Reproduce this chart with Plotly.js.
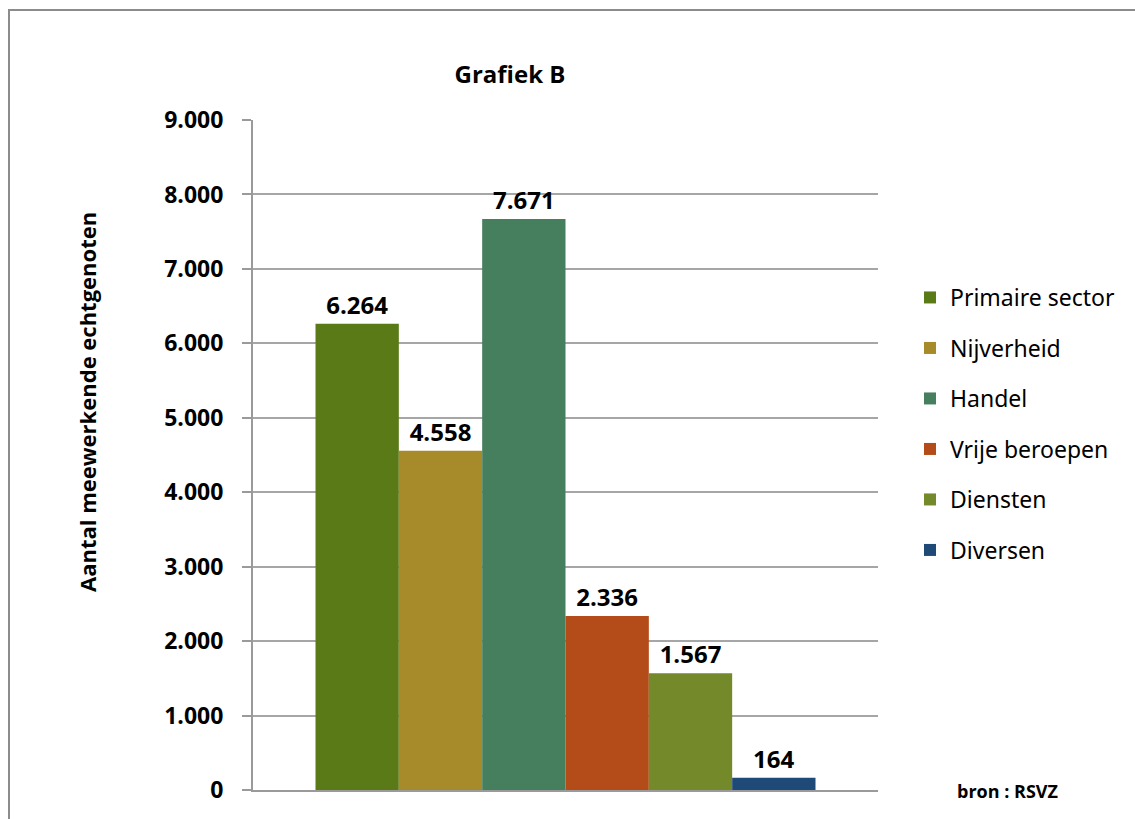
<!DOCTYPE html>
<html><head><meta charset="utf-8">
<script src="https://cdn.plot.ly/plotly-3.0.1.min.js"></script>
<style>html,body{margin:0;padding:0;background:#fff;}#chart{width:1135px;height:819px;}</style>
</head><body><div id="chart"></div>
<script>
const categories = ["Primaire sector","Nijverheid","Handel","Vrije beroepen","Diensten","Diversen"];
const values = [6264, 4558, 7671, 2336, 1567, 164];
const colors = ["#5a7a18","#a78a29","#457f5e","#b34c18","#74892a","#1f4a78"];
const yTicks = [0,1000,2000,3000,4000,5000,6000,7000,8000,9000];

const W = 1135, H = 819;
const M = {l:253, r:257, t:120, b:29};
const pw = W - M.l - M.r, ph = H - M.t - M.b;
const px = v => (v - M.l)/pw;
const py = v => (H - M.b - v)/ph;

const traces = categories.map((c,i)=>({
  type:'bar', name:c, x:['B'], y:[values[i]],
  marker:{color:colors[i]}, legendgroup:'g'+i,
  texttemplate:'%{y:,}', textposition:'outside', cliponaxis:false,
  textfont:{family:'Open Sans', size:24, color:'#000', weight:700},
  hoverinfo:'none'
}));

const layout = {
  width:W, height:H, margin:M,
  paper_bgcolor:'#fff', plot_bgcolor:'#fff',
  separators:',.',
  font:{family:'Open Sans', color:'#000'},
  barmode:'group', bargap:0.2, bargroupgap:0,
  title:{text:'<b>Grafiek B</b>', font:{family:'Open Sans', size:24, color:'#000'},
    x:510/W, xanchor:'center', xref:'container', y:1-75/H, yanchor:'middle', yref:'container'},
  xaxis:{showticklabels:false, showline:true, linecolor:'#9a9a9a', linewidth:2, ticks:'', showgrid:false, zeroline:false, fixedrange:true},
  yaxis:{range:[0,9000], tickvals:yTicks, tickformat:',d', showgrid:true, gridcolor:'#a6a6a6', gridwidth:2,
    showline:true, linecolor:'#9a9a9a', linewidth:2, ticks:'outside', ticklen:9, tickwidth:2, tickcolor:'#9a9a9a',
    zeroline:false, ticklabelstandoff:14,
    tickfont:{family:'Open Sans', size:23, color:'#000', weight:700}},
  showlegend:true,
  legend:{x:910/W, xref:'container', xanchor:'left', y:1-276/H, yref:'container', yanchor:'top',
    traceorder:'grouped', tracegroupgap:17.6, font:{family:'Noto Sans', size:23, color:'#000'}, bgcolor:'rgba(0,0,0,0)'},
  annotations:[
    {text:'<b>Aantal meewerkende echtgenoten</b>', textangle:-90, xref:'paper', yref:'paper',
     x:px(87), y:py(402), showarrow:false, xanchor:'center', yanchor:'middle',
     font:{family:'Open Sans', size:22, color:'#000'}},
    {text:'<b>bron : RSVZ</b>', xref:'paper', yref:'paper', x:px(1007), y:py(791), showarrow:false,
     xanchor:'center', yanchor:'middle', font:{family:'Open Sans', size:18, color:'#000'}}
  ],
  shapes:[
    {type:'rect', xref:'paper', yref:'paper', x0:px(9), x1:px(1150), y0:py(830), y1:py(10),
     line:{color:'#8c8c8c', width:2}, fillcolor:'rgba(0,0,0,0)', layer:'above'}
  ]
};
Plotly.newPlot('chart', traces, layout, {displayModeBar:false, staticPlot:true});
</script></body></html>
